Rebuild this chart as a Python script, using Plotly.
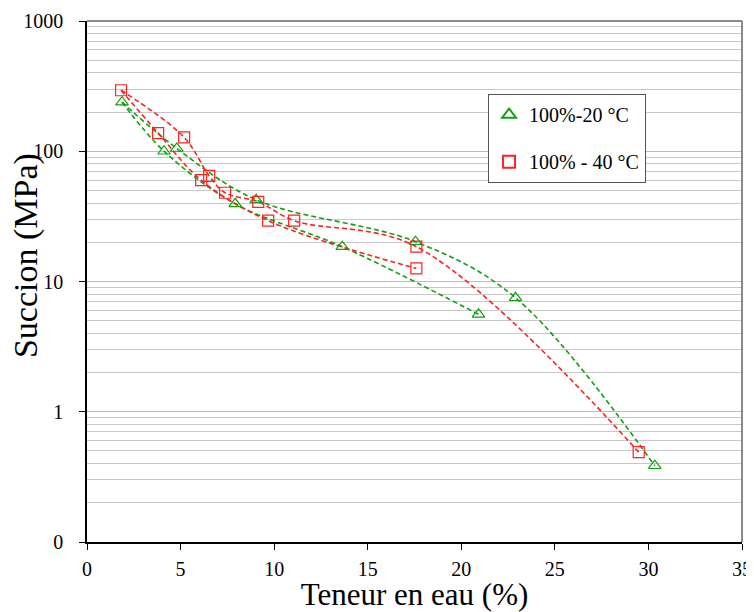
import plotly.graph_objects as go

# --- data ---
green_x = [1.87, 4.12, 4.8, 7.92, 9.04, 13.64, 17.55, 20.92, 22.9, 30.34]
green_y = [238, 100, 105, 39.5, 42.4, 18.5, 20.2, 5.6, 7.5, 0.385]
red_x = [1.82, 3.8, 5.19, 6.1, 6.53, 7.38, 9.15, 9.68, 11.07, 17.6, 17.6, 29.48]
red_y = [294, 138, 128, 60, 64.7, 48, 40.9, 29.3, 29.3, 18.5, 12.6, 0.49]

# branches (indices into the series above) for the smoothed dashed curves
green_upper = [0, 2, 4, 6, 8, 9]
green_lower = [0, 1, 3, 5, 7]
red_upper = [0, 2, 4, 5, 6, 8, 9, 11]
red_lower = [0, 1, 3, 7, 10]

x_ticks = [0, 5, 10, 15, 20, 25, 30, 35]
y_ticks = [0.1, 1, 10, 100, 1000]
y_ticklabels = ["0", "1", "10", "100", "1000"]

x_title = "Teneur en eau (%)"
y_title = "Succion (MPa)"

GREEN = "#10a010"
RED = "#ff2020"
FONT = "Liberation Serif"

fig = go.Figure()

def branch(xs, ys, idx, color):
    fig.add_trace(go.Scatter(
        x=[xs[i] for i in idx], y=[ys[i] for i in idx],
        mode="lines", line=dict(color=color, width=1.6, dash="5px,3px", shape="spline", smoothing=1.0),
        showlegend=False, hoverinfo="skip"))

branch(green_x, green_y, green_upper, GREEN)
branch(green_x, green_y, green_lower, GREEN)
branch(red_x, red_y, red_upper, RED)
branch(red_x, red_y, red_lower, RED)

fig.add_trace(go.Scatter(
    x=green_x, y=green_y, mode="markers", name="100%-20 °C", legendgroup="g",
    marker=dict(symbol="triangle-up-open", size=11, color=GREEN, line=dict(width=1.2))))
fig.add_trace(go.Scatter(
    x=red_x, y=red_y, mode="markers", name="100% - 40 °C", legendgroup="r",
    marker=dict(symbol="square-open", size=11, color=RED, line=dict(width=1.2))))

minor_vals = []
for d in [0.1, 1, 10, 100]:
    for k in range(2, 10):
        minor_vals.append(d * k)

# the page body adds an 8px offset; the figure is sized to fit the window
fig.update_layout(
    width=746, height=604,
    margin=dict(l=79, r=11.5, t=13, b=70),
    paper_bgcolor="white", plot_bgcolor="white",
    font=dict(family=FONT, color="black", size=20),
    xaxis=dict(range=[0, 35], tickvals=x_ticks, showgrid=False, zeroline=False,
               automargin=False,
               showline=True, linecolor="black", linewidth=1.5,
               ticks="outside", ticklen=6, tickcolor="black", ticklabelstandoff=2,
               tickfont=dict(family=FONT, size=20, color="black"),
               title=dict(text=x_title, font=dict(family=FONT, size=31), standoff=9)),
    yaxis=dict(type="log", range=[-1, 3], tickvals=y_ticks, ticktext=y_ticklabels,
               automargin=False,
               showgrid=True, gridcolor="#bdbdbd", gridwidth=1, zeroline=False,
               showline=True, linecolor="black", linewidth=1.5,
               ticks="outside", ticklen=6, tickcolor="black", ticklabelstandoff=12,
               tickfont=dict(family=FONT, size=20, color="black"),
               minor=dict(tickmode="array", tickvals=minor_vals, showgrid=True,
                          gridcolor="#c8c8c8", gridwidth=1, ticks="")),
    annotations=[dict(text=y_title, textangle=-90, xref="paper", yref="paper",
                      x=-0.093, y=0.549, xanchor="center", yanchor="middle",
                      showarrow=False, font=dict(family=FONT, size=34, color="black"))],
    legend=dict(x=0.612, y=0.86, xanchor="left", yanchor="top",
                bgcolor="white", bordercolor="#555555", borderwidth=1.2,
                font=dict(family=FONT, size=20, color="black"), itemsizing="constant",
                tracegroupgap=18, traceorder="grouped"),
    shapes=[
        dict(type="line", xref="paper", yref="paper", x0=0, x1=1, y0=1, y1=1,
             line=dict(color="#666666", width=1.5)),
        dict(type="line", xref="paper", yref="paper", x0=1, x1=1, y0=0, y1=1,
             line=dict(color="#666666", width=1.5)),
    ],
)

fig.write_html("out.html")
